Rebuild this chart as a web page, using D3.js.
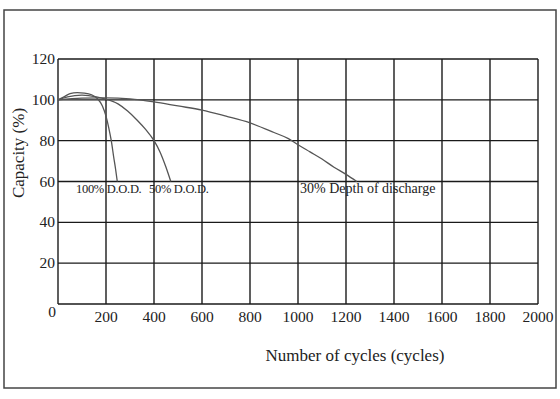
<!DOCTYPE html>
<html><head><meta charset="utf-8">
<script src="https://cdn.jsdelivr.net/npm/d3@7"></script>
<style>body{margin:0;background:#fff}svg{display:block}</style>
</head><body>
<svg id="chart" width="560" height="399"></svg>
<script>
const xTicks = [0,200,400,600,800,1000,1200,1400,1600,1800,2000];
const yTicks = [0,20,40,60,80,100,120];
const dod100Cycles = [0,25,50,80,110,140,165,185,200,212,222,232,240,247];
const dod100Values = [100,101.5,103,103.5,103.3,102.5,100.5,97,92,86,80,72,66,60];
const dod50Cycles = [0,40,100,160,210,250,290,330,365,400,425,450,470];
const dod50Values = [100,101.5,102.3,101.5,100,98,94.5,90,85.5,80,74.5,67,60];
const dod30Cycles = [0,100,200,300,400,500,600,700,800,900,960,1000,1050,1100,1150,1200,1245];
const dod30Values = [100,100.8,101,100.5,99,97,95,92,88.7,84,81,78,74.5,71,67,63.5,60];
const labels = ["100% D.O.D.","50% D.O.D.","30% Depth of discharge"];

const svg = d3.select("#chart");
const font = "'Liberation Serif','Times New Roman',serif";
const x = d3.scaleLinear().domain([0,2000]).range([58,538]);
const y = d3.scaleLinear().domain([0,120]).range([304,59]);

// outer frame
svg.append("rect").attr("x",4).attr("y",10).attr("width",552).attr("height",378)
  .attr("fill","none").attr("stroke","#444").attr("stroke-width",1.5);

// grid
const g = svg.append("g");
g.selectAll(".vx").data(xTicks).join("line")
  .attr("x1",d=>x(d)).attr("x2",d=>x(d)).attr("y1",y(0)).attr("y2",y(120))
  .attr("stroke","#1a1a1a").attr("stroke-width",1.4);
g.selectAll(".hy").data(yTicks).join("line")
  .attr("x1",x(0)).attr("x2",x(2000)).attr("y1",d=>y(d)).attr("y2",d=>y(d))
  .attr("stroke","#1a1a1a").attr("stroke-width",1.4);

// tick labels
svg.selectAll(".xt").data(xTicks).join("text")
  .attr("x",d=>d===0?x(d)-6:x(d)).attr("y",d=>d===0?317:322)
  .attr("text-anchor","middle").attr("font-family",font).attr("font-size",15.5).attr("fill","#222")
  .text(d=>d);
svg.selectAll(".yt").data(yTicks.filter(d=>d>0)).join("text")
  .attr("x",x(0)-3).attr("y",d=>y(d)+5)
  .attr("text-anchor","end").attr("font-family",font).attr("font-size",15.5).attr("fill","#222")
  .text(d=>d);

// axis titles
svg.append("text").attr("x",355).attr("y",361).attr("text-anchor","middle")
  .attr("font-family",font).attr("font-size",17).attr("fill","#222").text("Number of cycles (cycles)");
svg.append("text").attr("transform","translate(24,153) rotate(-90)").attr("text-anchor","middle")
  .attr("font-family",font).attr("font-size",17).attr("fill","#222").text("Capacity  (%)");

// curves
const line = d3.line().x(d=>x(d[0])).y(d=>y(d[1])).curve(d3.curveMonotoneX);
const series = [
  d3.zip(dod100Cycles,dod100Values),
  d3.zip(dod50Cycles,dod50Values),
  d3.zip(dod30Cycles,dod30Values)
];
svg.selectAll(".curve").data(series).join("path")
  .attr("d",line).attr("fill","none").attr("stroke","#555").attr("stroke-width",1.3);

// curve labels
const labelPos = [[76,193],[149,193],[300,193]];
svg.selectAll(".lbl").data(labels).join("text")
  .attr("x",(d,i)=>labelPos[i][0]).attr("y",(d,i)=>labelPos[i][1])
  .attr("font-family",font).attr("font-size",(d,i)=>i===2?14:12.5).attr("fill","#222")
  .attr("letter-spacing",(d,i)=>i===2?0:-0.3)
  .text(d=>d);
</script>
</body></html>
